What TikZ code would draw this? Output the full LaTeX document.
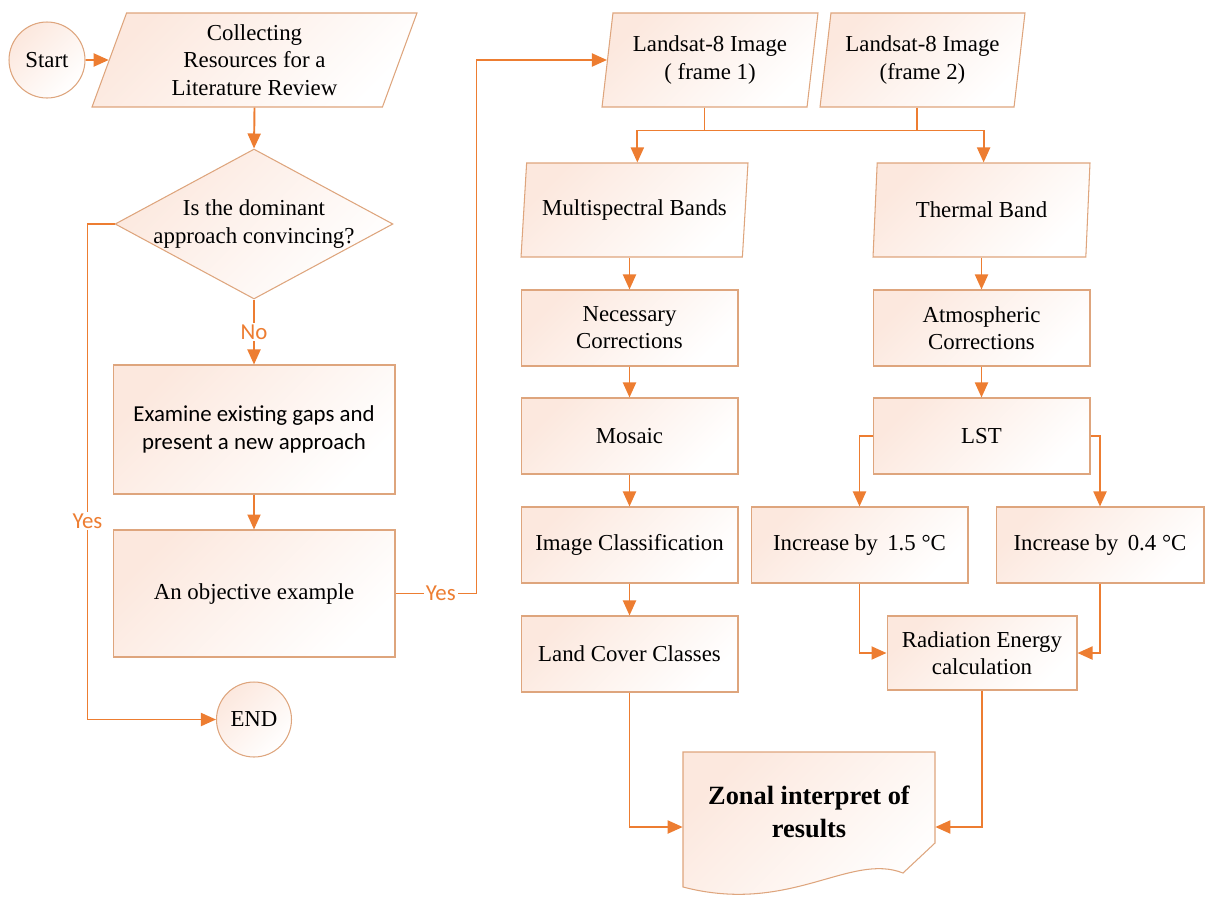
\documentclass[tikz,border=0pt]{standalone}
\usepackage{fontspec}
\setmainfont{LiberationSerif}[Extension=.ttf, UprightFont=*-Regular, BoldFont=*-Bold, ItalicFont=*-Italic, BoldItalicFont=*-BoldItalic]
\newfontfamily\carlito{Carlito}
\usetikzlibrary{shapes.geometric,arrows.meta}
\definecolor{arrowor}{RGB}{237,125,49}
\definecolor{boxline}{RGB}{222,165,125}
\definecolor{peach}{RGB}{252,232,222}

\begin{document}
\begin{tikzpicture}[x=0.02cm, y=-0.02cm, font=\fontsize{13}{15.5}\selectfont,
		shaded/.style={draw=boxline, line width=0.6pt, top color=peach, bottom color=white, shading angle=45},
		box/.style={shaded, rectangle, minimum width=4.34cm, minimum height=1.52cm, align=center, inner sep=2pt},
		io/.style={shaded, trapezium, trapezium left angle=78, trapezium right angle=102, trapezium stretches body, minimum height=1.88cm, align=center, inner sep=1pt},
		term/.style={shaded, circle, minimum size=1.52cm, inner sep=0pt},
		arr/.style={color=arrowor, line width=1.1pt, -{Triangle[length=0.3cm,width=0.26cm]}},
		line/.style={color=arrowor, line width=1.1pt},
		lbl/.style={font=\carlito\fontsize{13}{15}\selectfont, text=arrowor, fill=white, inner sep=1pt}]
				\useasboundingbox (0,0) rectangle (1206,900);

				% left column
				\node[term] (start) at (47,60) 																		{Start};
				\node[io, trapezium left angle=65, trapezium right angle=115, minimum width=6.5cm] (collect) at (254.5,60) {Collecting\\Resources for a\\Literature Review};
				\node[shaded, diamond, minimum width=5.56cm, minimum height=3cm, inner sep=0pt, label={[align=center]center:Is the dominant\\approach convincing?}] (decide) at (254,224) {};
				\node[box, font=\carlito\fontsize{13}{16}\selectfont, minimum width=5.64cm, minimum height=2.58cm] (examine) at (254,429.5) {Examine existing gaps and\\present a new approach};
				\node[box, minimum width=5.64cm, minimum height=2.54cm] (objective) at (254,593.5)				{An objective example};
				\node[term, minimum size=1.5cm] (end) at (254,719.5)													{END};

				% right part
				\node[io, minimum width=4.32cm] (land1) at (710,60) 												{Landsat-8 Image\\( frame 1)};
				\node[io, minimum width=4.1cm] (land2) at (922.5,60) 												{Landsat-8 Image\\(frame 2)};
				\node[io, trapezium left angle=77, trapezium right angle=103, minimum width=4.54cm] (multi) at (634.5,210) {Multispectral Bands};
				\node[io, minimum width=4.34cm] (thermal) at (981.5,210) 											{Thermal Band};
				\node[box] (necess) at (629.5,328) 																	{Necessary\\Corrections};
				\node[box] (atmos) at (981.5,328) 																	{Atmospheric\\Corrections};
				\node[box] (mosaic) at (629.5,436) 																	{Mosaic};
				\node[box] (lst) at (981.5,436) 																		{LST};
				\node[box] (classif) at (629.5,545) 																	{Image Classification};
				\node[box] (inc15) at (859.5,545) 																	{Increase by \,1.5 °C};
				\node[box, minimum width=4.16cm] (inc04) at (1100,545) 											{Increase by \,0.4 °C};
				\node[box] (landc) at (629.5,654) 																	{Land Cover Classes};
				\node[box, minimum width=3.8cm, minimum height=1.48cm] (radiat) at (982,653) 						{Radiation Energy\\calculation};

				% document shape
				\draw[shaded] (683,752) -- (935,752) -- (935,843) -- (903,873) .. controls (850,852) and (790,915) .. (683,887) -- cycle;
				\node[font=\bfseries\fontsize{15}{19}\selectfont, align=center, minimum width=5.04cm] (zonal) at (809,812) {Zonal interpret of\\results};

				\path
					(start) edge[arr] (collect)
					(collect.south) edge[arr] (decide.north)
					(examine) edge[arr] (objective)
					(multi.south -| necess) edge[arr] (necess)
					(thermal.south -| atmos) edge[arr] (atmos)
					(necess) edge[arr] (mosaic)
					(mosaic) edge[arr] (classif)
					(classif) edge[arr] (landc)
					(atmos) edge[arr] (lst);

				\draw[arr] (decide.south) -- node[lbl] {No} (examine.north);
				\draw[arr] (decide.west) -- ++(-27,0) |- node[lbl, pos=0.3] {Yes} (end.west);
				\draw[arr] (objective.east) -- node[lbl, pos=0.56] {Yes} ++(81,0) |- (land1.west);

				\draw[arr] (land1.bottom side) -- ++(0,23) -| (multi.top side);
				\draw[arr] (land1.bottom side) -- ++(0,23) -| (thermal.top side);
				\draw[line] (land2.bottom side) -- ++(0,23);

				\draw[arr] (lst.west) -| (inc15.north);
				\draw[arr] (lst.east) -| (inc04.north);
				\draw[arr] (inc15.south) |- (radiat.west);
				\draw[arr] (inc04.south) |- (radiat.east);
				\draw[arr] (landc.south) |- ([yshift=-0.3cm]zonal.west);
				\draw[arr] (radiat.south) |- ([yshift=-0.3cm]zonal.east);

			\end{tikzpicture}
\end{document}
